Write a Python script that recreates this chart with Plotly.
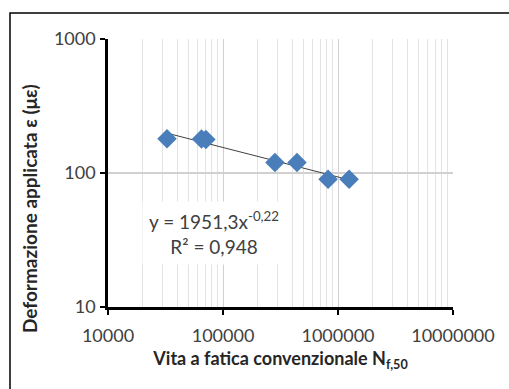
import plotly.graph_objects as go
import numpy as np

# Data
cycles = [32600, 65000, 71000, 283000, 440000, 820000, 1250000]
strain = [180, 179, 178, 120, 120, 90, 90]

# Power-law trend line y = 1951.3 x^-0.22
coef_a = 1951.3
coef_b = -0.22
trend_x = np.logspace(np.log10(min(cycles)), np.log10(max(cycles)), 50)
trend_y = coef_a * trend_x ** coef_b

x_ticks = [10000, 100000, 1000000, 10000000]
x_ticklabels = ["10000", "100000", "1000000", "10000000"]
y_ticks = [10, 100, 1000]
y_ticklabels = ["10", "100", "1000"]

FONT = "Lato"
fig = go.Figure()
fig.add_trace(go.Scatter(x=trend_x, y=trend_y, mode="lines",
                         line=dict(color="#404040", width=1), hoverinfo="skip", showlegend=False))
fig.add_trace(go.Scatter(x=cycles, y=strain, mode="markers",
                         marker=dict(symbol="diamond", size=15, color="#4a7ebb"), showlegend=False))

fig.update_layout(
    width=509, height=389,
    margin=dict(l=108, r=56, t=39, b=82),
    paper_bgcolor="white", plot_bgcolor="white",
    font=dict(family=FONT, color="#404040", size=18),
    xaxis=dict(type="log", range=[4, 7], tickvals=x_ticks, ticktext=x_ticklabels,
               showline=True, linecolor="black", linewidth=2.5, ticks="outside",
               tickcolor="black", tickwidth=2, ticklen=5, ticklabelstandoff=6,
               tickfont=dict(size=18, color="#404040"),
               showgrid=True, gridcolor="#d0d0d0", gridwidth=1,
               minor=dict(dtick="D1", showgrid=True, gridcolor="#e3e3e3", ticks=""),
               zeroline=False,
               title=dict(text="<b>Vita a fatica convenzionale N<sub>f,50</sub></b>",
                          font=dict(size=18, color="#262626"), standoff=8)),
    yaxis=dict(type="log", range=[1, 3], tickvals=y_ticks, ticktext=y_ticklabels,
               showline=True, linecolor="black", linewidth=2.5, ticks="outside",
               tickcolor="black", tickwidth=2, ticklen=5, ticklabelstandoff=1,
               tickfont=dict(size=18, color="#404040"),
               showgrid=True, gridcolor="#d0d0d0", gridwidth=1.5, zeroline=False),
    annotations=[
        dict(xref="paper", yref="paper", x=(214 - 108) / 345, y=(307 - 233) / 268,
             xanchor="center", yanchor="middle",
             text="y = 1951,3x<sup>-0,22</sup><br>R² = 0,948", showarrow=False,
             align="center", bgcolor="white", font=dict(size=19, color="#404040"),
             borderpad=6),
        dict(xref="paper", yref="paper", x=(30 - 108) / 345, y=(307 - 209) / 268,
             xanchor="center", yanchor="middle", textangle=-90,
             text="<b>Deformazione applicata ε (με)</b>", showarrow=False,
             font=dict(size=19, color="#262626")),
    ],
    shapes=[dict(type="rect", xref="paper", yref="paper",
                 x0=(10 - 108) / 345, x1=(520 - 108) / 345,
                 y0=(307 - 400) / 268, y1=(307 - 13) / 268,
                 line=dict(color="black", width=1.5), layer="below")],
)
fig.write_html("out.html")
